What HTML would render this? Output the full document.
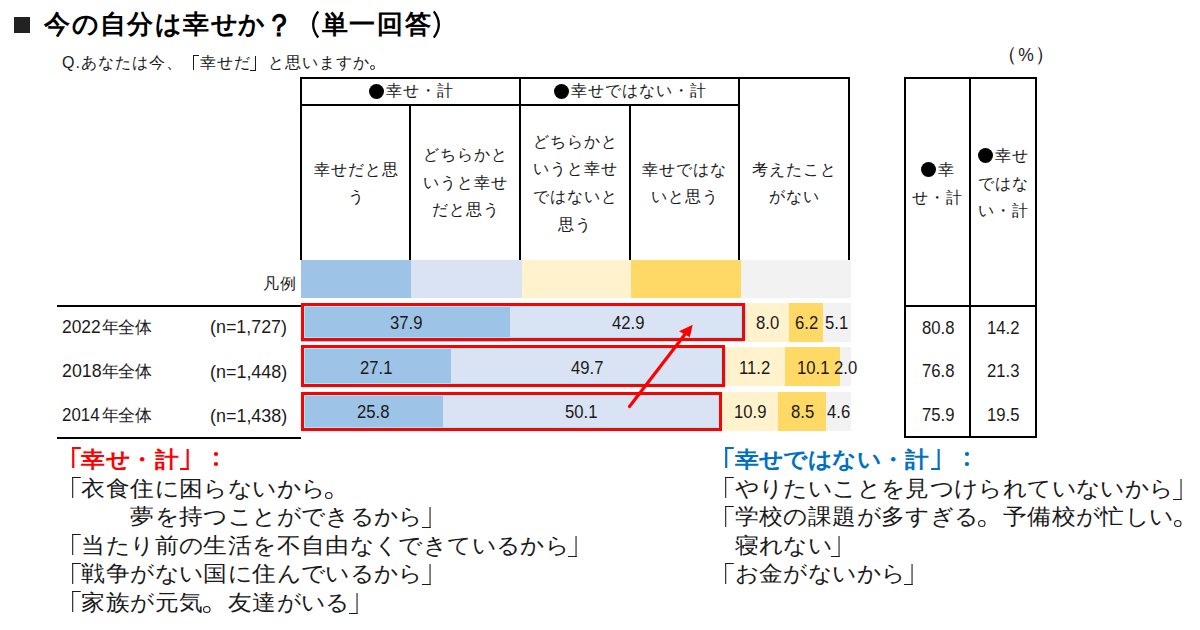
<!DOCTYPE html>
<html><head><meta charset="utf-8"><style>
html,body{margin:0;padding:0;background:#fff;}
body{width:1200px;height:630px;position:relative;overflow:hidden;font-family:"Liberation Sans",sans-serif;color:#1a1a1a;}
i{font-style:normal;display:inline-block;text-align:left;}
s{text-decoration:none;}
.a{position:absolute;white-space:nowrap;}
.hl{position:absolute;background:#000;height:2px;}
.vl{position:absolute;background:#000;width:2px;}
.dot{display:inline-block;width:15px;height:15px;border-radius:50%;background:#000;vertical-align:top;}
.hd{position:absolute;text-align:center;font-size:16px;line-height:27.7px;white-space:nowrap;}
.hd .dot{margin-top:6.3px;}
.sw{position:absolute;}
.seg{position:absolute;text-align:center;font-size:17px;line-height:39px;height:39px;white-space:nowrap;}
.rb{position:absolute;border:3px solid #ff0000;box-sizing:border-box;box-shadow:inset 0 0 0 1px #8AEFFF;}
.nm{position:absolute;font-size:18.5px;line-height:20px;white-space:nowrap;transform-origin:0 0;color:#1a1a1a;}
.txt{position:absolute;font-size:22px;line-height:28.5px;white-space:nowrap;}
.txt i{transform:scaleX(1.08);}
</style></head><body>
<div class="a" style="left:14px;top:17px;width:16px;height:16px;background:#222;"></div>
<div class="a" style="left:44px;top:11px;font-size:26px;line-height:26px;font-weight:bold;color:#000;"><i style="width:27.75px">今</i><i style="width:27.75px">の</i><i style="width:27.75px">自</i><i style="width:27.75px">分</i><i style="width:27.75px">は</i><i style="width:27.75px">幸</i><i style="width:27.75px">せ</i><i style="width:27.75px">か</i><i style="width:27.75px"><span style="display:inline-block;transform:translate(0.3px,0.9px) scale(1.1,1.21)">？</span></i></div>
<svg class="a" style="left:294px;top:9px" width="30" height="32"><path d="M24.2,2.5 Q14.2,15.5 24.2,28.5" stroke="#000" stroke-width="2.3" fill="none"/></svg>
<div class="a" style="left:321.5px;top:11px;font-size:26px;line-height:26px;font-weight:bold;color:#000;"><i style="width:27.75px">単</i><i style="width:27.75px">一</i><i style="width:27.75px">回</i><i style="width:27.75px">答</i></div>
<svg class="a" style="left:432.7px;top:9px" width="30" height="32"><path d="M0.8,2.5 Q10.8,15.5 0.8,28.5" stroke="#000" stroke-width="2.3" fill="none"/></svg>
<div class="a" style="left:62px;top:55px;font-size:16px;line-height:16px;"><span style="letter-spacing:1px">Q.</span><i style="width:17px">あ</i><i style="width:17px">な</i><i style="width:17px">た</i><i style="width:17px">は</i><i style="width:17px">今</i><i style="width:17px">、</i><i style="width:17px;position:relative;height:16px;vertical-align:top"><s style="position:absolute;left:10.18px;top:-0.36px;width:5.82px;height:15.27px;border-left:1.20px solid currentColor;border-top:1.20px solid currentColor;box-sizing:border-box"></s></i><i style="width:17px">幸</i><i style="width:17px">せ</i><i style="width:17px">だ</i><i style="width:17px;position:relative;height:16px;vertical-align:top"><s style="position:absolute;left:-0.73px;top:0.80px;width:5.82px;height:15.27px;border-right:1.20px solid currentColor;border-bottom:1.20px solid currentColor;box-sizing:border-box"></s></i><i style="width:17px">と</i><i style="width:17px">思</i><i style="width:17px">い</i><i style="width:17px">ま</i><i style="width:17px">す</i><i style="width:17px">か</i><i style="width:17px;position:relative;height:16px;vertical-align:top"><s style="position:absolute;left:0.22px;top:10.29px;width:5.09px;height:5.09px;border:1.09px solid currentColor;border-radius:50%;box-sizing:border-box"></s></i></div>
<div class="a" style="left:997px;top:44px;font-size:20px;line-height:20px;">（<span style="position:relative;top:0.3px;font-size:17.5px;margin:0 1.3px">%</span>）</div>
<div class="hl" style="left:300px;top:77px;width:550px;"></div>
<div class="hl" style="left:300px;top:104px;width:440px;"></div>
<div class="vl" style="left:300px;top:77px;height:183px;"></div>
<div class="vl" style="left:409px;top:104px;height:156px;"></div>
<div class="vl" style="left:519px;top:77px;height:183px;"></div>
<div class="vl" style="left:629px;top:104px;height:156px;"></div>
<div class="vl" style="left:738px;top:77px;height:183px;"></div>
<div class="vl" style="left:848px;top:77px;height:183px;"></div>
<div class="hd" style="left:302px;width:219px;top:77.3px;"><i style="width:17px"><s class="dot"></s></i><i style="width:17px">幸</i><i style="width:17px">せ</i><i style="width:17px">・</i><i style="width:17px">計</i></div>
<div class="hd" style="left:521px;width:219px;top:77.3px;"><i style="width:17px"><s class="dot"></s></i><i style="width:17px">幸</i><i style="width:17px">せ</i><i style="width:17px">で</i><i style="width:17px">は</i><i style="width:17px">な</i><i style="width:17px">い</i><i style="width:17px">・</i><i style="width:17px">計</i></div>
<div class="hd" style="left:301px;width:110px;top:155.5px;"><i style="width:17px">幸</i><i style="width:17px">せ</i><i style="width:17px">だ</i><i style="width:17px">と</i><i style="width:17px">思</i><br><i style="width:17px">う</i></div>
<div class="hd" style="left:411px;width:109px;top:141px;"><i style="width:17px">ど</i><i style="width:17px">ち</i><i style="width:17px">ら</i><i style="width:17px">か</i><i style="width:17px">と</i><br><i style="width:17px">い</i><i style="width:17px">う</i><i style="width:17px">と</i><i style="width:17px">幸</i><i style="width:17px">せ</i><br><i style="width:17px">だ</i><i style="width:17px">と</i><i style="width:17px">思</i><i style="width:17px">う</i></div>
<div class="hd" style="left:520px;width:110px;top:127.5px;"><i style="width:17px">ど</i><i style="width:17px">ち</i><i style="width:17px">ら</i><i style="width:17px">か</i><i style="width:17px">と</i><br><i style="width:17px">い</i><i style="width:17px">う</i><i style="width:17px">と</i><i style="width:17px">幸</i><i style="width:17px">せ</i><br><i style="width:17px">で</i><i style="width:17px">は</i><i style="width:17px">な</i><i style="width:17px">い</i><i style="width:17px">と</i><br><i style="width:17px">思</i><i style="width:17px">う</i></div>
<div class="hd" style="left:630px;width:109px;top:155.5px;"><i style="width:17px">幸</i><i style="width:17px">せ</i><i style="width:17px">で</i><i style="width:17px">は</i><i style="width:17px">な</i><br><i style="width:17px">い</i><i style="width:17px">と</i><i style="width:17px">思</i><i style="width:17px">う</i></div>
<div class="hd" style="left:739px;width:110px;top:155.5px;"><i style="width:17px">考</i><i style="width:17px">え</i><i style="width:17px">た</i><i style="width:17px">こ</i><i style="width:17px">と</i><br><i style="width:17px">が</i><i style="width:17px">な</i><i style="width:17px">い</i></div>
<div class="a" style="left:263px;top:276px;font-size:16px;line-height:16px;"><i style="width:17px">凡</i><i style="width:17px">例</i></div>
<div class="sw" style="left:301px;top:260px;width:110px;height:38px;background:#9DC3E6;"></div>
<div class="sw" style="left:411px;top:260px;width:111px;height:38px;background:#DAE3F3;"></div>
<div class="sw" style="left:522px;top:260px;width:109px;height:38px;background:#FFF2CC;"></div>
<div class="sw" style="left:631px;top:260px;width:110px;height:38px;background:#FFD966;"></div>
<div class="sw" style="left:741px;top:260px;width:110px;height:38px;background:#F2F2F2;"></div>
<div class="hl" style="left:57px;top:305px;width:244px;"></div>
<div class="hl" style="left:57px;top:437px;width:244px;"></div>
<span class="nm" style="left:61.56px;top:316.68px;transform:scaleX(0.9410)">2022</span>
<div class="a" style="left:101.5px;top:318.5px;font-size:17px;line-height:17px;"><i style="width:16.8px">年</i><i style="width:16.8px">全</i><i style="width:16.8px">体</i></div>
<span class="nm" style="left:210.43px;top:317.33px;transform:scaleX(0.9660)">(n=1,727)</span>
<span class="nm" style="left:61.54px;top:360.83px;transform:scaleX(0.9615)">2018</span>
<div class="a" style="left:101.5px;top:362.5px;font-size:17px;line-height:17px;"><i style="width:16.8px">年</i><i style="width:16.8px">全</i><i style="width:16.8px">体</i></div>
<span class="nm" style="left:210.33px;top:361.58px;transform:scaleX(0.9692)">(n=1,448)</span>
<span class="nm" style="left:61.59px;top:405.33px;transform:scaleX(0.9125)">2014</span>
<div class="a" style="left:101.5px;top:407px;font-size:17px;line-height:17px;"><i style="width:16.8px">年</i><i style="width:16.8px">全</i><i style="width:16.8px">体</i></div>
<span class="nm" style="left:210.33px;top:406.28px;transform:scaleX(0.9692)">(n=1,438)</span>
<div class="sw" style="left:301px;top:303px;width:209px;height:39px;background:#9DC3E6;"></div>
<div class="sw" style="left:510px;top:303px;width:236px;height:39px;background:#DAE3F3;"></div>
<div class="sw" style="left:746px;top:303px;width:43px;height:39px;background:#FFF2CC;"></div>
<div class="sw" style="left:789px;top:303px;width:34px;height:39px;background:#FFD966;"></div>
<div class="sw" style="left:823px;top:303px;width:28px;height:39px;background:#F2F2F2;"></div>
<span class="nm" style="left:390.40px;top:313.33px;transform:scaleX(0.9000)">37.9</span>
<span class="nm" style="left:611.75px;top:313.33px;transform:scaleX(0.9000)">42.9</span>
<span class="nm" style="left:755.70px;top:313.33px;transform:scaleX(0.9000)">8.0</span>
<span class="nm" style="left:794.70px;top:313.33px;transform:scaleX(0.9000)">6.2</span>
<span class="nm" style="left:824.70px;top:313.33px;transform:scaleX(0.9000)">5.1</span>
<div class="sw" style="left:301px;top:347px;width:150px;height:39px;background:#9DC3E6;"></div>
<div class="sw" style="left:451px;top:347px;width:275px;height:39px;background:#DAE3F3;"></div>
<div class="sw" style="left:726px;top:347px;width:59px;height:39px;background:#FFF2CC;"></div>
<div class="sw" style="left:785px;top:347px;width:55px;height:39px;background:#FFD966;"></div>
<div class="sw" style="left:840px;top:347px;width:11px;height:39px;background:#F2F2F2;"></div>
<span class="nm" style="left:360.20px;top:358.08px;transform:scaleX(0.9000)">27.1</span>
<span class="nm" style="left:571.45px;top:358.08px;transform:scaleX(0.9000)">49.7</span>
<span class="nm" style="left:738.75px;top:358.08px;transform:scaleX(0.9000)">11.2</span>
<span class="nm" style="left:797.10px;top:358.08px;transform:scaleX(0.9000)">10.1</span>
<span class="nm" style="left:834.30px;top:358.08px;transform:scaleX(0.9000)">2.0</span>
<div class="sw" style="left:301px;top:392px;width:142px;height:39px;background:#9DC3E6;"></div>
<div class="sw" style="left:443px;top:392px;width:279px;height:39px;background:#DAE3F3;"></div>
<div class="sw" style="left:722px;top:392px;width:56px;height:39px;background:#FFF2CC;"></div>
<div class="sw" style="left:778px;top:392px;width:48px;height:39px;background:#FFD966;"></div>
<div class="sw" style="left:826px;top:392px;width:25px;height:39px;background:#F2F2F2;"></div>
<span class="nm" style="left:357.20px;top:402.08px;transform:scaleX(0.9000)">25.8</span>
<span class="nm" style="left:565.30px;top:402.08px;transform:scaleX(0.9000)">50.1</span>
<span class="nm" style="left:733.60px;top:402.08px;transform:scaleX(0.9000)">10.9</span>
<span class="nm" style="left:790.80px;top:402.08px;transform:scaleX(0.9000)">8.5</span>
<span class="nm" style="left:827.25px;top:402.08px;transform:scaleX(0.9000)">4.6</span>
<div class="rb" style="left:301px;top:303px;width:444px;height:38px;"></div>
<div class="rb" style="left:301px;top:345px;width:424px;height:42px;"></div>
<div class="rb" style="left:301px;top:392px;width:421px;height:39px;"></div>
<svg class="a" style="left:0;top:0" width="1200" height="630" viewBox="0 0 1200 630">
<line x1="629.5" y1="406.5" x2="686" y2="333" stroke="#ff0000" stroke-width="3.2" stroke-linecap="round"/>
<polygon points="692.7,324.8 679,331.3 689.8,337.2" fill="#ff0000"/>
</svg>
<div class="hl" style="left:904px;top:77px;width:133px;"></div>
<div class="hl" style="left:904px;top:305px;width:133px;"></div>
<div class="hl" style="left:904px;top:436px;width:133px;"></div>
<div class="vl" style="left:904px;top:77px;height:361px;"></div>
<div class="vl" style="left:969px;top:77px;height:361px;"></div>
<div class="vl" style="left:1035px;top:77px;height:361px;"></div>
<div class="hd" style="left:905px;width:65px;top:156px;"><i style="width:17px"><s class="dot"></s></i><i style="width:17px">幸</i><br><i style="width:17px">せ</i><i style="width:17px">・</i><i style="width:17px">計</i></div>
<div class="hd" style="left:970px;width:66px;top:142px;"><i style="width:17px"><s class="dot"></s></i><i style="width:17px">幸</i><i style="width:17px">せ</i><br><i style="width:17px">で</i><i style="width:17px">は</i><i style="width:17px">な</i><br><i style="width:17px">い</i><i style="width:17px">・</i><i style="width:17px">計</i></div>
<span class="nm" style="left:921.60px;top:317.78px;transform:scaleX(0.9000)">80.8</span>
<span class="nm" style="left:987.00px;top:317.78px;transform:scaleX(0.9000)">14.2</span>
<span class="nm" style="left:921.60px;top:360.88px;transform:scaleX(0.9000)">76.8</span>
<span class="nm" style="left:987.00px;top:360.88px;transform:scaleX(0.9000)">21.3</span>
<span class="nm" style="left:921.60px;top:405.08px;transform:scaleX(0.9000)">75.9</span>
<span class="nm" style="left:987.00px;top:405.08px;transform:scaleX(0.9000)">19.5</span>
<div class="txt" style="left:58px;top:446px;"><b style="color:#ff0000"><i style="width:24.4px;position:relative;height:28.5px;vertical-align:top"><s style="position:absolute;left:14.00px;top:1.25px;width:8.00px;height:21.00px;border-left:2.20px solid currentColor;border-top:2.20px solid currentColor;box-sizing:border-box"></s></i><i style="width:24.4px">幸</i><i style="width:24.4px">せ</i><i style="width:24.4px">・</i><i style="width:24.4px">計</i><i style="width:24.4px;position:relative;height:28.5px;vertical-align:top"><s style="position:absolute;left:0.50px;top:3.35px;width:8.00px;height:21.00px;border-right:2.20px solid currentColor;border-bottom:2.20px solid currentColor;box-sizing:border-box"></s></i><i style="width:24.4px;position:relative;height:28.5px;vertical-align:top"><s style="position:absolute;left:9.80px;top:5.70px;width:4.20px;height:4.20px;background:currentColor;border-radius:50%"></s><s style="position:absolute;left:9.80px;top:15.60px;width:4.20px;height:4.20px;background:currentColor;border-radius:50%"></s></i></b><br><i style="width:24.4px;position:relative;height:28.5px;vertical-align:top"><s style="position:absolute;left:14.00px;top:2.75px;width:8.00px;height:21.00px;border-left:1.60px solid currentColor;border-top:1.60px solid currentColor;box-sizing:border-box"></s></i><i style="width:24.4px">衣</i><i style="width:24.4px">食</i><i style="width:24.4px">住</i><i style="width:24.4px">に</i><i style="width:24.4px">困</i><i style="width:24.4px">ら</i><i style="width:24.4px">な</i><i style="width:24.4px">い</i><i style="width:24.4px">か</i><i style="width:24.4px">ら</i><i style="width:24.4px;position:relative;height:28.5px;vertical-align:top"><s style="position:absolute;left:0.30px;top:17.40px;width:7.00px;height:7.00px;border:1.50px solid currentColor;border-radius:50%;box-sizing:border-box"></s></i><br><i style="width:24.4px">　</i><i style="width:24.4px">　</i><i style="width:24.4px">　</i><i style="width:24.4px">夢</i><i style="width:24.4px">を</i><i style="width:24.4px">持</i><i style="width:24.4px">つ</i><i style="width:24.4px">こ</i><i style="width:24.4px">と</i><i style="width:24.4px">が</i><i style="width:24.4px">で</i><i style="width:24.4px">き</i><i style="width:24.4px">る</i><i style="width:24.4px">か</i><i style="width:24.4px">ら</i><i style="width:24.4px;position:relative;height:28.5px;vertical-align:top"><s style="position:absolute;left:-1.00px;top:4.35px;width:8.00px;height:21.00px;border-right:1.60px solid currentColor;border-bottom:1.60px solid currentColor;box-sizing:border-box"></s></i><br><i style="width:24.4px;position:relative;height:28.5px;vertical-align:top"><s style="position:absolute;left:14.00px;top:2.75px;width:8.00px;height:21.00px;border-left:1.60px solid currentColor;border-top:1.60px solid currentColor;box-sizing:border-box"></s></i><i style="width:24.4px">当</i><i style="width:24.4px">た</i><i style="width:24.4px">り</i><i style="width:24.4px">前</i><i style="width:24.4px">の</i><i style="width:24.4px">生</i><i style="width:24.4px">活</i><i style="width:24.4px">を</i><i style="width:24.4px">不</i><i style="width:24.4px">自</i><i style="width:24.4px">由</i><i style="width:24.4px">な</i><i style="width:24.4px">く</i><i style="width:24.4px">で</i><i style="width:24.4px">き</i><i style="width:24.4px">て</i><i style="width:24.4px">い</i><i style="width:24.4px">る</i><i style="width:24.4px">か</i><i style="width:24.4px">ら</i><i style="width:24.4px;position:relative;height:28.5px;vertical-align:top"><s style="position:absolute;left:-1.00px;top:4.35px;width:8.00px;height:21.00px;border-right:1.60px solid currentColor;border-bottom:1.60px solid currentColor;box-sizing:border-box"></s></i><br><i style="width:24.4px;position:relative;height:28.5px;vertical-align:top"><s style="position:absolute;left:14.00px;top:2.75px;width:8.00px;height:21.00px;border-left:1.60px solid currentColor;border-top:1.60px solid currentColor;box-sizing:border-box"></s></i><i style="width:24.4px">戦</i><i style="width:24.4px">争</i><i style="width:24.4px">が</i><i style="width:24.4px">な</i><i style="width:24.4px">い</i><i style="width:24.4px">国</i><i style="width:24.4px">に</i><i style="width:24.4px">住</i><i style="width:24.4px">ん</i><i style="width:24.4px">で</i><i style="width:24.4px">い</i><i style="width:24.4px">る</i><i style="width:24.4px">か</i><i style="width:24.4px">ら</i><i style="width:24.4px;position:relative;height:28.5px;vertical-align:top"><s style="position:absolute;left:-1.00px;top:4.35px;width:8.00px;height:21.00px;border-right:1.60px solid currentColor;border-bottom:1.60px solid currentColor;box-sizing:border-box"></s></i><br><i style="width:24.4px;position:relative;height:28.5px;vertical-align:top"><s style="position:absolute;left:14.00px;top:2.75px;width:8.00px;height:21.00px;border-left:1.60px solid currentColor;border-top:1.60px solid currentColor;box-sizing:border-box"></s></i><i style="width:24.4px">家</i><i style="width:24.4px">族</i><i style="width:24.4px">が</i><i style="width:24.4px">元</i><i style="width:24.4px">気</i><i style="width:24.4px;position:relative;height:28.5px;vertical-align:top"><s style="position:absolute;left:0.30px;top:17.40px;width:7.00px;height:7.00px;border:1.50px solid currentColor;border-radius:50%;box-sizing:border-box"></s></i><i style="width:24.4px">友</i><i style="width:24.4px">達</i><i style="width:24.4px">が</i><i style="width:24.4px">い</i><i style="width:24.4px">る</i><i style="width:24.4px;position:relative;height:28.5px;vertical-align:top"><s style="position:absolute;left:-1.00px;top:4.35px;width:8.00px;height:21.00px;border-right:1.60px solid currentColor;border-bottom:1.60px solid currentColor;box-sizing:border-box"></s></i></div>
<div class="txt" style="left:711.2px;top:446px;"><b style="color:#0070C0"><i style="width:24.4px;position:relative;height:28.5px;vertical-align:top"><s style="position:absolute;left:14.00px;top:1.25px;width:8.00px;height:21.00px;border-left:2.20px solid currentColor;border-top:2.20px solid currentColor;box-sizing:border-box"></s></i><i style="width:24.4px">幸</i><i style="width:24.4px">せ</i><i style="width:24.4px">で</i><i style="width:24.4px">は</i><i style="width:24.4px">な</i><i style="width:24.4px">い</i><i style="width:24.4px">・</i><i style="width:24.4px">計</i><i style="width:24.4px;position:relative;height:28.5px;vertical-align:top"><s style="position:absolute;left:0.50px;top:3.35px;width:8.00px;height:21.00px;border-right:2.20px solid currentColor;border-bottom:2.20px solid currentColor;box-sizing:border-box"></s></i><i style="width:24.4px;position:relative;height:28.5px;vertical-align:top"><s style="position:absolute;left:9.80px;top:5.70px;width:4.20px;height:4.20px;background:currentColor;border-radius:50%"></s><s style="position:absolute;left:9.80px;top:15.60px;width:4.20px;height:4.20px;background:currentColor;border-radius:50%"></s></i></b><br><i style="width:24.4px;position:relative;height:28.5px;vertical-align:top"><s style="position:absolute;left:14.00px;top:2.75px;width:8.00px;height:21.00px;border-left:1.60px solid currentColor;border-top:1.60px solid currentColor;box-sizing:border-box"></s></i><i style="width:24.4px">や</i><i style="width:24.4px">り</i><i style="width:24.4px">た</i><i style="width:24.4px">い</i><i style="width:24.4px">こ</i><i style="width:24.4px">と</i><i style="width:24.4px">を</i><i style="width:24.4px">見</i><i style="width:24.4px">つ</i><i style="width:24.4px">け</i><i style="width:24.4px">ら</i><i style="width:24.4px">れ</i><i style="width:24.4px">て</i><i style="width:24.4px">い</i><i style="width:24.4px">な</i><i style="width:24.4px">い</i><i style="width:24.4px">か</i><i style="width:24.4px">ら</i><i style="width:24.4px;position:relative;height:28.5px;vertical-align:top"><s style="position:absolute;left:-1.00px;top:4.35px;width:8.00px;height:21.00px;border-right:1.60px solid currentColor;border-bottom:1.60px solid currentColor;box-sizing:border-box"></s></i><br><i style="width:24.4px;position:relative;height:28.5px;vertical-align:top"><s style="position:absolute;left:14.00px;top:2.75px;width:8.00px;height:21.00px;border-left:1.60px solid currentColor;border-top:1.60px solid currentColor;box-sizing:border-box"></s></i><i style="width:24.4px">学</i><i style="width:24.4px">校</i><i style="width:24.4px">の</i><i style="width:24.4px">課</i><i style="width:24.4px">題</i><i style="width:24.4px">が</i><i style="width:24.4px">多</i><i style="width:24.4px">す</i><i style="width:24.4px">ぎ</i><i style="width:24.4px">る</i><i style="width:24.4px;position:relative;height:28.5px;vertical-align:top"><s style="position:absolute;left:0.30px;top:17.40px;width:7.00px;height:7.00px;border:1.50px solid currentColor;border-radius:50%;box-sizing:border-box"></s></i><i style="width:24.4px">予</i><i style="width:24.4px">備</i><i style="width:24.4px">校</i><i style="width:24.4px">が</i><i style="width:24.4px">忙</i><i style="width:24.4px">し</i><i style="width:24.4px">い</i><i style="width:24.4px;position:relative;height:28.5px;vertical-align:top"><s style="position:absolute;left:0.30px;top:17.40px;width:7.00px;height:7.00px;border:1.50px solid currentColor;border-radius:50%;box-sizing:border-box"></s></i><br><i style="width:24.4px">　</i><i style="width:24.4px">寝</i><i style="width:24.4px">れ</i><i style="width:24.4px">な</i><i style="width:24.4px">い</i><i style="width:24.4px;position:relative;height:28.5px;vertical-align:top"><s style="position:absolute;left:-1.00px;top:4.35px;width:8.00px;height:21.00px;border-right:1.60px solid currentColor;border-bottom:1.60px solid currentColor;box-sizing:border-box"></s></i><br><i style="width:24.4px;position:relative;height:28.5px;vertical-align:top"><s style="position:absolute;left:14.00px;top:2.75px;width:8.00px;height:21.00px;border-left:1.60px solid currentColor;border-top:1.60px solid currentColor;box-sizing:border-box"></s></i><i style="width:24.4px">お</i><i style="width:24.4px">金</i><i style="width:24.4px">が</i><i style="width:24.4px">な</i><i style="width:24.4px">い</i><i style="width:24.4px">か</i><i style="width:24.4px">ら</i><i style="width:24.4px;position:relative;height:28.5px;vertical-align:top"><s style="position:absolute;left:-1.00px;top:4.35px;width:8.00px;height:21.00px;border-right:1.60px solid currentColor;border-bottom:1.60px solid currentColor;box-sizing:border-box"></s></i></div>
</body></html>
